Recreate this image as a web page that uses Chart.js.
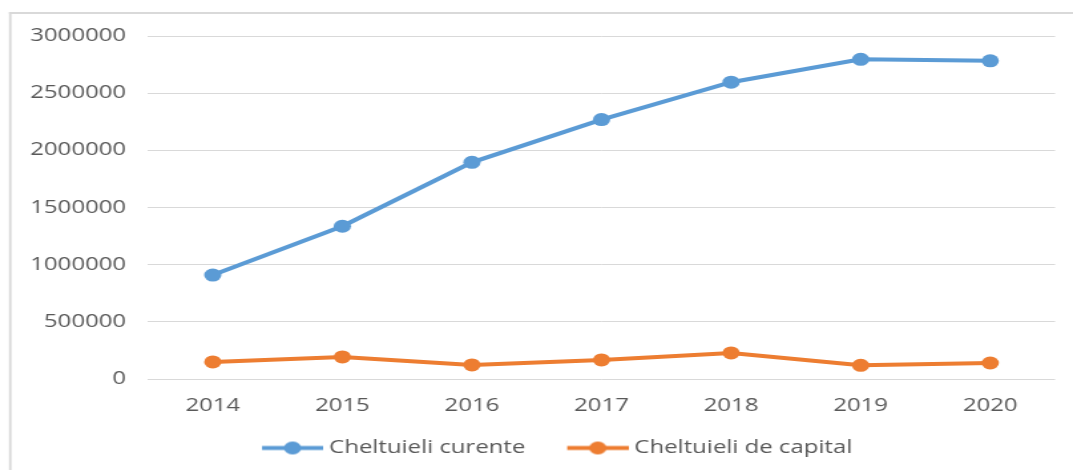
<!DOCTYPE html>
<html>
<head>
<meta charset="utf-8">
<script src="https://cdn.jsdelivr.net/npm/chart.js@4/dist/chart.umd.min.js"></script>
<style>
  html, body { margin: 0; padding: 0; background: #fff; overflow: hidden; }
  #chart { display: block; transform-origin: 0 0; }
</style>
</head>
<body>
<canvas id="chart" width="807" height="470"></canvas>
<script>
const $ = (id) => document.getElementById(id);

const years = ["2014", "2015", "2016", "2017", "2018", "2019", "2020"];
const curente = [909000, 1336000, 1895000, 2269000, 2596000, 2796000, 2783000];
const capital = [149000, 193000, 123000, 167000, 228000, 120000, 140000];
const yTicks = [0, 500000, 1000000, 1500000, 2000000, 2500000, 3000000];

// the source picture is stretched sideways, so the canvas is drawn narrow and scaled up
const STRETCH = 1073 / 807;
const FONT = "'Open Sans', 'Liberation Sans', sans-serif";
const TEXT = "#595959";
const GRID = "#d9d9d9";
const BLUE = "#5b9bd5";
const ORANGE = "#ed7d31";
const BOX_W = 66;

$("chart").style.transform = "scaleX(" + STRETCH + ")";

// line + dot swatch, right-aligned so it ends just before the label text
function legendIcon(color) {
  const c = document.createElement("canvas");
  c.width = BOX_W + 9;
  c.height = 15;
  const g = c.getContext("2d");
  const x0 = c.width - 46;
  g.strokeStyle = color;
  g.lineWidth = 4;
  g.beginPath();
  g.moveTo(x0, 7.5);
  g.lineTo(c.width, 7.5);
  g.stroke();
  g.fillStyle = color;
  g.beginPath();
  g.arc(x0 + 23, 7.5, 6.5, 0, Math.PI * 2);
  g.fill();
  return c;
}

const frame = {
  id: "frame",
  beforeDraw(chart) {
    const ctx = chart.ctx;
    ctx.save();
    ctx.fillStyle = "#fff";
    ctx.fillRect(0, 0, chart.width, chart.height);
    ctx.fillStyle = GRID;
    ctx.fillRect(6.8, 12, chart.width, 2);
    ctx.fillRect(6.8, 12, 1.8, chart.height);
    ctx.restore();
  },
};

function series(label, data, color) {
  return {
    label,
    data,
    borderColor: color,
    backgroundColor: color,
    borderWidth: 4,
    pointRadius: 6.5,
    pointHoverRadius: 6.5,
    pointBorderWidth: 0,
    pointBackgroundColor: color,
    tension: 0,
    fill: false,
  };
}

new Chart($("chart").getContext("2d"), {
  type: "line",
  data: {
    labels: years,
    datasets: [
      series("Cheltuieli curente", curente, BLUE),
      series("Cheltuieli de capital", capital, ORANGE),
    ],
  },
  options: {
    responsive: false,
    animation: false,
    devicePixelRatio: 1,
    layout: { padding: { top: 36, right: 13.5, bottom: 3, left: 20 } },
    plugins: {
      tooltip: { enabled: false },
      legend: {
        position: "bottom",
        labels: {
          color: TEXT,
          font: { family: FONT, size: 18 },
          usePointStyle: true,
          pointStyleWidth: BOX_W,
          boxHeight: 18,
          padding: 7,
          generateLabels: (chart) => chart.data.datasets.map((ds, i) => ({
            text: ds.label,
            pointStyle: legendIcon(ds.borderColor),
            fillStyle: ds.borderColor,
            strokeStyle: ds.borderColor,
            lineWidth: 0,
            fontColor: TEXT,
            hidden: false,
            datasetIndex: i,
          })),
        },
      },
    },
    scales: {
      x: {
        offset: true,
        grid: { display: false, drawTicks: false },
        border: { display: false },
        ticks: { color: TEXT, font: { family: FONT, size: 18 }, padding: 16.5, maxRotation: 0 },
        afterFit: (scale) => { scale.height = 53; },
      },
      y: {
        min: 0,
        max: 3000000,
        afterBuildTicks: (scale) => { scale.ticks = yTicks.map((v) => ({ value: v })); },
        grid: { color: GRID, lineWidth: 1, drawTicks: false },
        border: { display: false },
        ticks: { color: TEXT, font: { family: FONT, size: 18 }, padding: 16.5, callback: (v) => String(v) },
        afterFit: (scale) => { scale.width = 91.3; },
      },
    },
  },
  plugins: [frame],
});
</script>
</body>
</html>
